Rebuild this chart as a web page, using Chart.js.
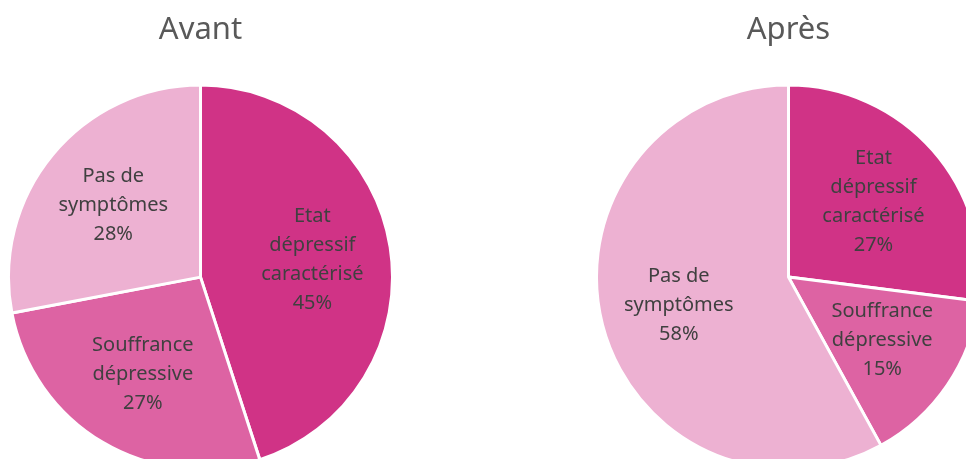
<!DOCTYPE html>
<html>
<head>
<meta charset="utf-8">
<script src="https://cdn.jsdelivr.net/npm/chart.js@4"></script>
<style>
  html, body { margin: 0; padding: 0; background: #fff; overflow: hidden; width: 966px; height: 459px; }
  .pie { position: absolute; top: 0; }
</style>
</head>
<body>
<canvas id="avantChart" class="pie" width="387" height="471" style="left:7px"></canvas>
<canvas id="apresChart" class="pie" width="387" height="471" style="left:595px"></canvas>
<script>
// Data
const categories = [
    ['Etat', 'dépressif', 'caractérisé'],
    ['Souffrance', 'dépressive'],
    ['Pas de', 'symptômes']
];
const avantValues = [45, 27, 28];
const apresValues = [27, 15, 58];
const titles = ['Avant', 'Après'];

const sliceColors = ['#D03386', '#DD63A3', '#EDB1D2'];

// Draw the category + percentage inside each slice
const sliceLabels = {
    id: 'sliceLabels',
    afterDatasetsDraw(chart) {
        const ctx = chart.ctx;
        const meta = chart.getDatasetMeta(0);
        const values = chart.data.datasets[0].data;
        const total = values.reduce((s, v) => s + v, 0);
        ctx.save();
        ctx.fillStyle = '#404040';
        ctx.font = '20px "Noto Sans", sans-serif';
        ctx.textAlign = 'center';
        ctx.textBaseline = 'middle';
        meta.data.forEach((arc, i) => {
            const p = arc.getProps(['x', 'y', 'startAngle', 'endAngle', 'outerRadius'], true);
            const mid = (p.startAngle + p.endAngle) / 2;
            const r = p.outerRadius * 0.59;
            const cx = p.x + Math.cos(mid) * r;
            const cy = p.y + Math.sin(mid) * r;
            const lines = chart.data.labels[i].concat([Math.round(values[i] / total * 100) + '%']);
            const lh = 29;
            const top = cy - (lines.length - 1) * lh / 2;
            lines.forEach((t, k) => ctx.fillText(t, cx, top + k * lh));
        });
        ctx.restore();
    }
};

function makePie(id, title, values) {
    return new Chart(document.getElementById(id).getContext('2d'), {
        type: 'pie',
        data: {
            labels: categories,
            datasets: [{
                data: values,
                backgroundColor: sliceColors,
                borderColor: '#ffffff',
                borderWidth: 3,
                hoverOffset: 0,
                offset: 0
            }]
        },
        options: {
            responsive: false,
            animation: false,
            events: [],
            layout: { padding: 0 },
            plugins: {
                legend: { display: false },
                tooltip: { enabled: false },
                title: {
                    display: true,
                    text: title,
                    color: '#595959',
                    font: { family: '"Noto Sans", sans-serif', size: 31, weight: 'normal', lineHeight: 1.2 },
                    padding: { top: 12, bottom: 34 }
                }
            }
        },
        plugins: [sliceLabels]
    });
}

const avantChart = makePie('avantChart', titles[0], avantValues);
const apresChart = makePie('apresChart', titles[1], apresValues);
</script>
</body>
</html>
